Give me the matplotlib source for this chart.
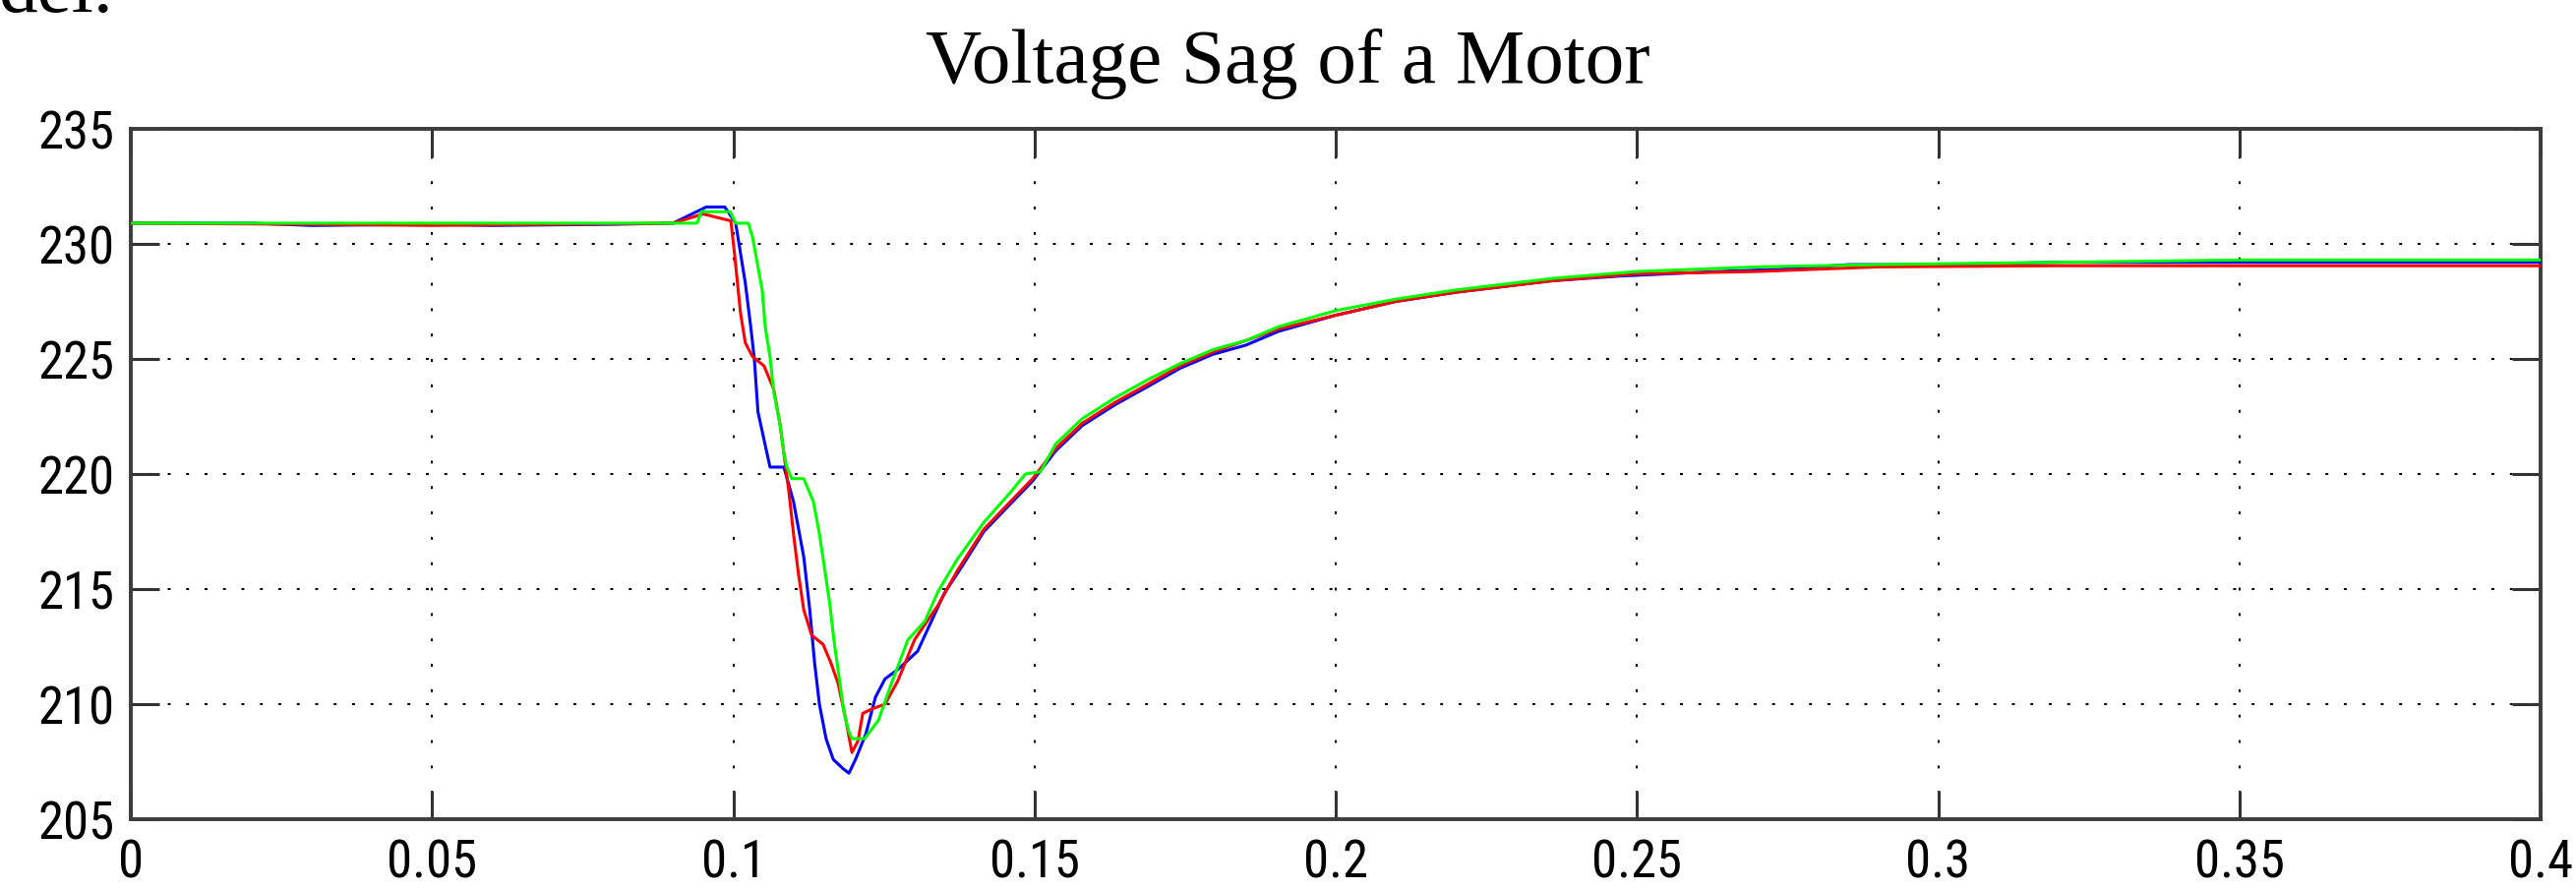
import matplotlib
matplotlib.use("Agg")
import matplotlib.pyplot as plt
import numpy as np

# sampled voltage traces (time in s, voltage in V)
t_blue = [0.0, 0.02, 0.03, 0.05, 0.06, 0.08, 0.09, 0.0955, 0.0986, 0.1004,
          0.1012, 0.102, 0.1029, 0.1035, 0.1041, 0.1051, 0.1061, 0.1084, 0.110,
          0.1117, 0.1127, 0.1135, 0.1143, 0.1154, 0.1166, 0.1182, 0.1192,
          0.1203, 0.122, 0.1236, 0.1252, 0.1273, 0.1306, 0.135, 0.138, 0.1416,
          0.146, 0.1497, 0.1535, 0.1579, 0.1633, 0.1688, 0.1742, 0.1796,
          0.1851, 0.1905, 0.2, 0.21, 0.22, 0.236, 0.247, 0.2635, 0.2743,
          0.2852, 0.3, 0.32, 0.35, 0.4]
v_blue = [230.9, 230.9, 230.8, 230.85, 230.8, 230.85, 230.9, 231.6, 231.6, 230.9,
          229.6, 228.3, 226.4, 225.0, 222.7, 221.5, 220.3, 220.3, 218.8,
          216.4, 214.1, 211.8, 210.0, 208.5, 207.6, 207.2, 207.0,
          207.6, 208.7, 210.3, 211.1, 211.5, 212.3, 214.8, 216.0, 217.5,
          218.7, 219.7, 221.0, 222.1, 223.0, 223.8, 224.6, 225.2,
          225.6, 226.2, 226.9, 227.5, 227.9, 228.4, 228.6, 228.8, 228.9,
          229.1, 229.1, 229.2, 229.2, 229.2]

t_red = [0.0, 0.03, 0.05, 0.07, 0.09, 0.095, 0.0996, 0.1002, 0.1007, 0.1012,
         0.102, 0.1032, 0.1051, 0.1067, 0.1078, 0.1084, 0.1092, 0.110, 0.1108,
         0.1117, 0.113, 0.1149, 0.1162, 0.1174, 0.1187, 0.1197, 0.1207,
         0.1215, 0.1231, 0.1252, 0.1273, 0.1301, 0.134, 0.1372, 0.1416, 0.146,
         0.1497, 0.1535, 0.1579, 0.1633, 0.1688, 0.1742, 0.1796, 0.1851,
         0.1905, 0.2, 0.21, 0.22, 0.236, 0.25, 0.27, 0.29, 0.32, 0.35, 0.4]
v_red = [230.9, 230.85, 230.8, 230.85, 230.9, 231.3, 231.0, 229.6, 228.3, 227.0,
         225.7, 225.1, 224.7, 223.7, 222.1, 220.9, 219.3, 217.4, 215.7,
         214.1, 213.0, 212.6, 211.8, 210.9, 209.3, 207.9, 208.4,
         209.6, 209.8, 210.0, 211.0, 212.8, 214.3, 215.8, 217.6, 218.8,
         219.8, 221.1, 222.2, 223.1, 223.9, 224.7, 225.3, 225.8,
         226.3, 226.9, 227.5, 227.9, 228.4, 228.7, 228.8, 229.0, 229.05, 229.05, 229.05]

t_green = [0.0, 0.094, 0.0947, 0.0995, 0.1004, 0.1025, 0.1032, 0.1041, 0.1048,
           0.1053, 0.1061, 0.1067, 0.1078, 0.1084, 0.1089, 0.1097, 0.1117,
           0.1133, 0.1143, 0.1151, 0.116, 0.1167, 0.1176, 0.1184, 0.1192,
           0.1197, 0.1218, 0.1241, 0.1264, 0.129, 0.1318, 0.134, 0.1372,
           0.1416, 0.146, 0.1485, 0.151, 0.1535, 0.1579, 0.1633, 0.1688,
           0.1742, 0.1796, 0.1851, 0.1905, 0.2, 0.21, 0.22, 0.236, 0.25,
           0.27, 0.29, 0.32, 0.35, 0.4]
v_green = [230.9, 230.9, 231.4, 231.4, 230.9, 230.9, 230.3, 229.0, 228.0,
           226.4, 225.1, 223.6, 222.1, 220.9, 220.3, 219.8, 219.8,
           218.8, 217.4, 216.0, 214.4, 212.8, 211.1, 209.6, 208.8,
           208.5, 208.5, 209.3, 211.0, 212.8, 213.6, 214.9, 216.3,
           217.9, 219.2, 220.0, 220.1, 221.3, 222.4, 223.3, 224.1,
           224.8, 225.4, 225.8, 226.4, 227.1, 227.6, 228.0, 228.5, 228.8,
           229.0, 229.1, 229.2, 229.3, 229.3]

x_ticks = [0, 0.05, 0.1, 0.15, 0.2, 0.25, 0.3, 0.35, 0.4]
x_tick_labels = ["0", "0.05", "0.1", "0.15", "0.2", "0.25", "0.3", "0.35", "0.4"]
y_ticks = [205, 210, 215, 220, 225, 230, 235]

W, H = 2619, 905
fig = plt.figure(figsize=(W / 100, H / 100), dpi=100)
ax = fig.add_axes([133 / W, 1 - 833 / H, (2583 - 133) / W, (833 - 131) / H])

ax.plot(t_blue, v_blue, color="#0000ff", lw=2.2, zorder=3)
ax.plot(t_red, v_red, color="#ff0000", lw=2.2, zorder=4)
ax.plot(t_green, v_green, color="#00ff00", lw=2.2, zorder=5)

ax.set_xlim(0, 0.4)
ax.set_ylim(205, 235)
ax.set_xticks(x_ticks)
ax.set_xticklabels(x_tick_labels)
ax.set_yticks(y_ticks)

# dotted grid, slightly different dot spacing on each axis
ax.grid(axis="y", color="black", lw=1.5, linestyle=(0, (1.4, 7.6)))
ax.grid(axis="x", color="black", lw=1.5, linestyle=(0, (1.4, 11)))

for s in ax.spines.values():
    s.set_color("#3c3c3c")
    s.set_linewidth(2.8)

tick_font = ["Liberation Sans Narrow", "Roboto Condensed", "DejaVu Sans"]
ax.tick_params(direction="in", length=21, width=2.2, color="#333333",
               top=True, right=True, labelsize=38)
ax.tick_params(axis="x", pad=14)
ax.tick_params(axis="y", pad=12)
for lab in ax.get_xticklabels() + ax.get_yticklabels():
    lab.set_family(tick_font)

fig.text(0.5, 1 - 84 / H, "Voltage Sag of a Motor", ha="center", va="baseline",
         family="Liberation Serif", fontsize=57)
fig.text(-2 / W, 1 - 12 / H, "del.", ha="left", va="baseline",
         family="Liberation Serif", fontsize=57)

fig.savefig("out.png", dpi=100, facecolor="white")
